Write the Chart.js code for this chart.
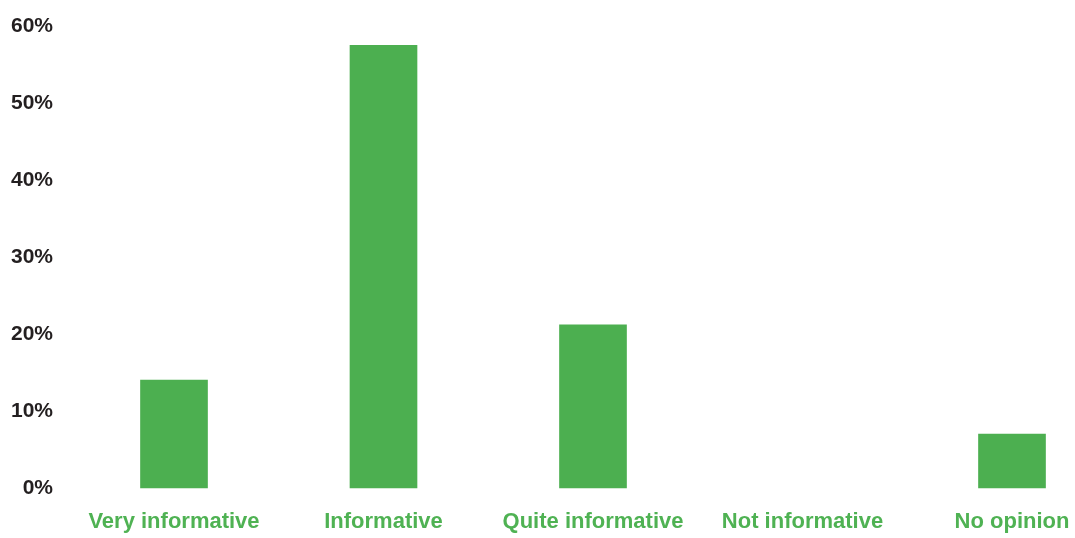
<!DOCTYPE html>
<html>
<head>
<meta charset="utf-8">
<script src="https://cdn.jsdelivr.net/npm/chart.js@4/dist/chart.umd.min.js"></script>
<style>
  html, body { margin: 0; padding: 0; background: #fff; }
  #wrap { width: 1075px; height: 538px; }
</style>
</head>
<body>
<div id="wrap"><canvas id="chart"></canvas></div>
<script>
// DATA
var categories = ["Very informative", "Informative", "Quite informative", "Not informative", "No opinion"];
var shares = [14.0, 57.5, 21.2, 0, 7.0];
var yTicks = [0, 10, 20, 30, 40, 50, 60];

var barGreen = "#4caf50";

var ctx = document.getElementById('chart').getContext('2d');
var surveyChart = new Chart(ctx, {
    type: "bar",
    data: {
        labels: categories,
        datasets: [{
            label: "Share",
            data: shares,
            // a 0% bar leaves an antialiased hairline, hide it
            backgroundColor: function (c) {
                return c.raw ? barGreen : "rgba(0,0,0,0)";
            },
            barThickness: 67,
            clip: false
        }]
    },
    options: {
        responsive: true,
        maintainAspectRatio: false,
        animation: false,
        layout: { padding: { left: 10, right: 63, top: 26, bottom: 4 } },
        plugins: {
            legend: { display: false },
            tooltip: { enabled: false }
        },
        scales: {
            x: {
                offset: false,
                grid: { display: false, drawTicks: false },
                border: { display: false },
                // tick padding is counted twice by chart.js, fix the box size
                afterFit: function (scale) {
                    scale.paddingLeft = 0;
                    scale.paddingRight = 0;
                    scale.height = 46;
                },
                ticks: {
                    color: "#4fb253",
                    padding: 21,
                    maxRotation: 0,
                    autoSkip: false,
                    font: { family: "Liberation Sans", weight: "bold", size: 22 }
                }
            },
            y: {
                min: yTicks[0],
                max: yTicks[yTicks.length - 1],
                grid: { display: false, drawTicks: false },
                border: { display: false },
                afterBuildTicks: function (scale) {
                    scale.ticks = yTicks.map(function (v) { return { value: v }; });
                },
                // big padding keeps labels far left of the bars
                afterFit: function (scale) {
                    scale.paddingTop = 0;
                    scale.paddingBottom = 0;
                    scale.width = 164;
                },
                ticks: {
                    color: "#231f20",
                    padding: 121,
                    font: { family: "Liberation Sans", weight: "bold", size: 21 },
                    callback: function (v) { return v + "%"; }
                }
            }
        }
    }
});
</script>
</body>
</html>
